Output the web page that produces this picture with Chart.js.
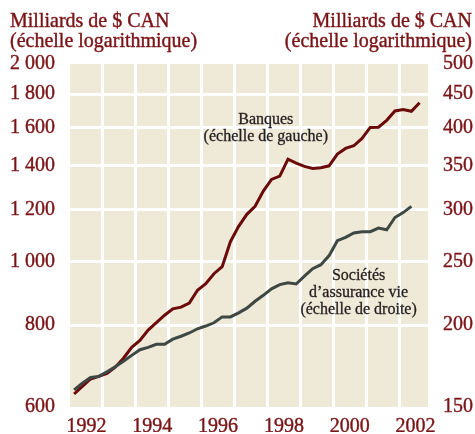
<!DOCTYPE html>
<html><head><meta charset="utf-8">
<script src="https://cdn.jsdelivr.net/npm/chart.js@4/dist/chart.umd.min.js"></script>
<style>html,body{margin:0;padding:0;background:#fff}</style>
</head><body>
<canvas id="c" width="475" height="434" style="display:block;width:475px;height:434px"></canvas>
<script>
// Quarterly observations (decimal years, mid-quarter)
const quarters = [1992.125,1992.375,1992.625,1992.875,1993.125,1993.375,1993.625,1993.875,
  1994.125,1994.375,1994.625,1994.875,1995.125,1995.375,1995.625,1995.875,
  1996.125,1996.375,1996.625,1996.875,1997.125,1997.375,1997.625,1997.875,
  1998.125,1998.375,1998.625,1998.875,1999.125,1999.375,1999.625,1999.875,
  2000.125,2000.375,2000.625,2000.875,2001.125,2001.375,2001.625,2001.875,
  2002.125,2002.375,2002.625];
// Banks, billions CAD (left log scale)
const banks = [628,645,662,668,675,690,712,740,758,786,807,828,847,852,864,904,925,958,982,1072,
  1131,1180,1214,1280,1334,1349,1432,1412,1396,1386,1390,1399,1458,1487,1501,1540,1601,1602,1641,
  1696,1704,1694,1746];
// Life insurance companies, billions CAD (right log scale)
const insurers = [159.3,163.1,166.4,167.0,169.7,172.8,176.2,179.8,183.4,184.9,186.9,186.9,190.3,
  192.3,194.5,197.4,199.3,201.6,205.8,205.8,208.7,212.2,217.4,222.0,227.1,230.5,231.9,231.0,237.5,
  243.7,247.2,255.2,268.9,272.0,276.3,277.5,277.5,281.1,279.4,291.7,296.8,303.3];

const leftTicks = [600,800,1000,1200,1400,1600,1800,2000];
const rightTicks = [150,200,250,300,350,400,450,500];
const labelYears = [1992,1994,1996,1998,2000,2002];
const gridYears = [1993,1994,1995,1996,1997,1998,1999,2000,2001,2002];
const titleLines = ['Milliards de $ CAN','(échelle logarithmique)'];
const bankLabel = ['Banques','(échelle de gauche)'];
const insLabel = ['Sociétés','d\u2019assurance vie','(échelle de droite)'];

const RED = '#7a1315';
const FONT = '"Liberation Serif", "Times New Roman", serif';

function fmt(v){
  if (v >= 1000) return Math.floor(v/1000) + ' ' + String(v % 1000).padStart(3,'0');
  return String(v);
}

const bgPlugin = {
  id:'bg',
  beforeDraw(chart){
    const {ctx, chartArea:a} = chart;
    ctx.save();
    ctx.fillStyle = '#efe9d7';
    ctx.fillRect(a.left, a.top, a.right - a.left, a.bottom - a.top);
    ctx.restore();
  }
};

function heavyText(ctx, t, x, y){
  ctx.fillText(t, x, y);
  ctx.strokeText(t, x, y);
}

const textPlugin = {
  id:'texts',
  afterDatasetsDraw(chart){
    const {ctx, scales} = chart;
    ctx.save();
    ctx.lineWidth = 0.4;
    // titles
    ctx.fillStyle = RED; ctx.strokeStyle = RED;
    ctx.font = '20px ' + FONT;
    ctx.textBaseline = 'alphabetic';
    ctx.textAlign = 'left';
    heavyText(ctx, titleLines[0], 10, 27);
    heavyText(ctx, titleLines[1], 10, 46.5);
    ctx.textAlign = 'right';
    heavyText(ctx, titleLines[0], 472, 27);
    heavyText(ctx, titleLines[1], 472, 46.5);
    // series labels
    ctx.fillStyle = '#231f20'; ctx.strokeStyle = '#231f20';
    ctx.lineWidth = 0.3;
    ctx.font = '16px ' + FONT;
    ctx.textAlign = 'center';
    let bx = scales.x.getPixelForValue(1997.95), by = scales.y.getPixelForValue(1622);
    bankLabel.forEach((t,i)=>heavyText(ctx, t, bx, by + i*17.7));
    let ix = scales.x.getPixelForValue(2000.77), iy = scales.y2.getPixelForValue(234.5);
    insLabel.forEach((t,i)=>heavyText(ctx, t, ix, iy + i*17));
    ctx.restore();
  }
};

const tickFont = {family:FONT, size:20};

new Chart(document.getElementById('c'), {
  type:'line',
  data:{
    datasets:[
      { label:'Sociétés d\u2019assurance vie', data: insurers.map((v,i)=>({x:quarters[i], y:v})),
        yAxisID:'y2', borderColor:'#3d4845', borderWidth:3, pointRadius:0, tension:0, order:0 },
      { label:'Banques', data: banks.map((v,i)=>({x:quarters[i], y:v})),
        yAxisID:'y', borderColor:'#6b0a0a', borderWidth:3, pointRadius:0, tension:0, order:1 }
    ]
  },
  options:{
    responsive:false, animation:false, devicePixelRatio:1,
    layout:{padding:{top:64,left:0,right:0,bottom:0}},
    plugins:{legend:{display:false}, tooltip:{enabled:false}, title:{display:false}},
    scales:{
      x:{
        type:'linear', min:1992, max:2002.88,
        border:{display:false},
        afterBuildTicks(s){
          const t = gridYears.map(v=>({value:v})).concat(labelYears.map(v=>({value:v+0.5})));
          t.sort((a,b)=>a.value-b.value);
          s.ticks = t;
        },
        afterFit(s){ s.height = 25; },
        grid:{ drawTicks:false, lineWidth:3,
          color:(c)=> (c.tick && Number.isInteger(c.tick.value)) ? '#ffffff' : 'rgba(0,0,0,0)' },
        ticks:{ autoSkip:false, maxRotation:0, padding:8, color:RED, font:tickFont,
          textStrokeColor:RED, textStrokeWidth:0.4,
          callback:(v)=> Number.isInteger(v) ? '' : String(Math.floor(v)) }
      },
      y:{
        type:'logarithmic', position:'left', min:600, max:2000,
        border:{display:false},
        afterBuildTicks(s){ s.ticks = leftTicks.map(v=>({value:v})); },
        afterFit(s){ s.width = 70; },
        grid:{ drawTicks:false, lineWidth:3,
          color:(c)=> (c.tick && (c.tick.value===600 || c.tick.value===2000)) ? 'rgba(0,0,0,0)' : '#ffffff' },
        ticks:{ autoSkip:false, padding:15, color:RED, font:tickFont,
          textStrokeColor:RED, textStrokeWidth:0.4, callback:(v)=>fmt(v) }
      },
      y2:{
        type:'logarithmic', position:'right', min:150, max:500,
        border:{display:false},
        afterBuildTicks(s){ s.ticks = rightTicks.map(v=>({value:v})); },
        afterFit(s){ s.width = 47; },
        grid:{ display:false, drawTicks:false },
        ticks:{ autoSkip:false, padding:15, color:RED, font:tickFont,
          textStrokeColor:RED, textStrokeWidth:0.4, callback:(v)=>String(v) }
      }
    }
  },
  plugins:[bgPlugin, textPlugin]
});
</script>
</body></html>
